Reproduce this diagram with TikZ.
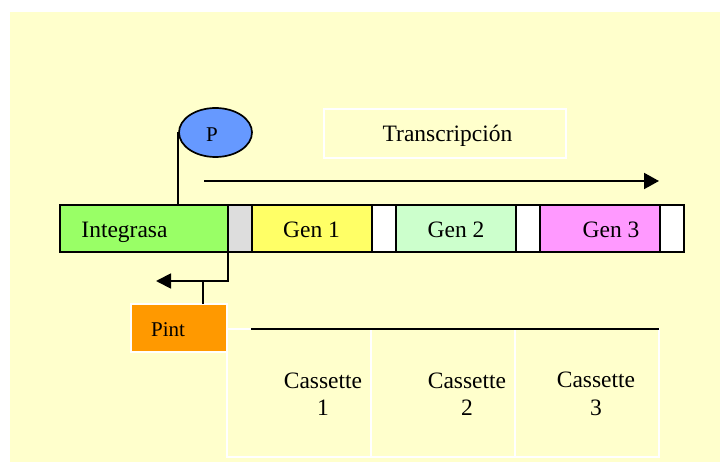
\documentclass[tikz,border=0pt]{standalone}
\usepackage{fontspec}
\setmainfont{Liberation Serif}
\usetikzlibrary{arrows.meta,shapes.geometric}
\definecolor{bgyellow}{HTML}{FFFFCC}
\definecolor{intgreen}{HTML}{99FF66}
\definecolor{sepgray}{HTML}{DDDDDD}
\definecolor{gen1col}{HTML}{FFFF66}
\definecolor{gen2col}{HTML}{CCFFCC}
\definecolor{gen3col}{HTML}{FF99FF}
\definecolor{pblue}{HTML}{6699FF}
\definecolor{pintorange}{HTML}{FF9900}
\tikzset{
  seg/.style={draw=black, line width=1.8pt, minimum height=47pt, inner sep=0pt, outer sep=0pt, anchor=north west},
  txt/.style={font=\fontsize{23.5}{27.5}\selectfont, inner sep=0pt, anchor=base},
  cell/.style={draw=white, line width=1.6pt, minimum height=128pt, minimum width=144pt, inner sep=0pt, outer sep=0pt, anchor=north west},
  castxt/.style={font=\fontsize{23.5}{27.5}\selectfont, align=center, inner sep=0pt},
  conn/.style={line width=1.8pt},
  bigarrow/.style={line width=2pt, -{Triangle[length=15pt,width=16pt]}},
}
\begin{document}
\begin{tikzpicture}[x=1pt,y=-1pt]
\useasboundingbox (0,0) rectangle (720,462);
\fill[bgyellow] (10,12) rectangle (720,462);

% bar
\node[seg, fill=intgreen, minimum width=168pt] (int) at (60,205) {};
\node[seg, fill=sepgray, minimum width=24pt] (gray) at (int.north east) {};
\node[seg, fill=gen1col, minimum width=120pt] (g1) at (gray.north east) {};
\node[seg, fill=white, minimum width=24pt] (w1) at (g1.north east) {};
\node[seg, fill=gen2col, minimum width=120pt] (g2) at (w1.north east) {};
\node[seg, fill=white, minimum width=24pt] (w2) at (g2.north east) {};
\node[seg, fill=gen3col, minimum width=120pt] (g3) at (w2.north east) {};
\node[seg, fill=white, minimum width=24pt] (w3) at (g3.north east) {};

\node[txt] (tint) at (124.5,237.5) {Integrasa};
\node[txt] (tg1) at (311.5,237.5) {Gen 1};
\node[txt] (tg2) at (456,237.5) {Gen 2};
\node[txt] (tg3) at (611,237.5) {Gen 3};

% promoter P
\node[ellipse, draw=black, line width=1.7pt, fill=pblue, minimum width=73pt, minimum height=49pt, inner sep=0pt] (P) at (215.5,132.5) {};
\node[font=\fontsize{21}{24}\selectfont, inner sep=0pt, anchor=base] (tP) at (212,142) {P};
\draw[conn] (P.west) -- (P.west |- int.north);

% transcription label box
\node[draw=white, line width=1.6pt, minimum width=242pt, minimum height=49pt, inner sep=0pt, anchor=north west] (tbox) at (323,108) {};
\node[txt] (ttr) at (447.5,141.5) {Transcripción};

% transcription arrow
\coordinate (ts) at (204,181);
\coordinate (te) at (659,181);
\draw[bigarrow] (ts) -- (te);

% Pint box
\node[draw=white, line width=1.6pt, fill=pintorange, minimum width=96pt, minimum height=48pt, inner sep=0pt, outer sep=0pt, anchor=north west] (pint) at (131,304) {};
\node[font=\fontsize{21}{24}\selectfont, inner sep=0pt, anchor=base] (tpint) at (168,336) {Pint};

% Pint arrow
\coordinate (pa) at (156,281);
\coordinate (stem) at (203,281);
\draw[conn, -{Triangle[length=15pt,width=15pt]}] (gray.south west) |- (pa);
\draw[conn] (stem) -- (stem |- pint.north);

% cassette table
\node[cell] (c1) at (227,329) {};
\node[cell] (c2) at (c1.north east) {};
\node[cell] (c3) at (c2.north east) {};
\coordinate (cl) at (251,329);
\draw[line width=1.8pt] (cl) -- (c3.north east);

\node[castxt] (tc1) at ([xshift=24pt,yshift=-1pt]c1.center) {Cassette\\1};
\node[castxt] (tc2) at ([xshift=24pt,yshift=-1pt]c2.center) {Cassette\\2};
\node[castxt] (tc3) at ([xshift=9pt,yshift=-1pt]c3.center) {Cassette\\3};
\end{tikzpicture}
\end{document}
